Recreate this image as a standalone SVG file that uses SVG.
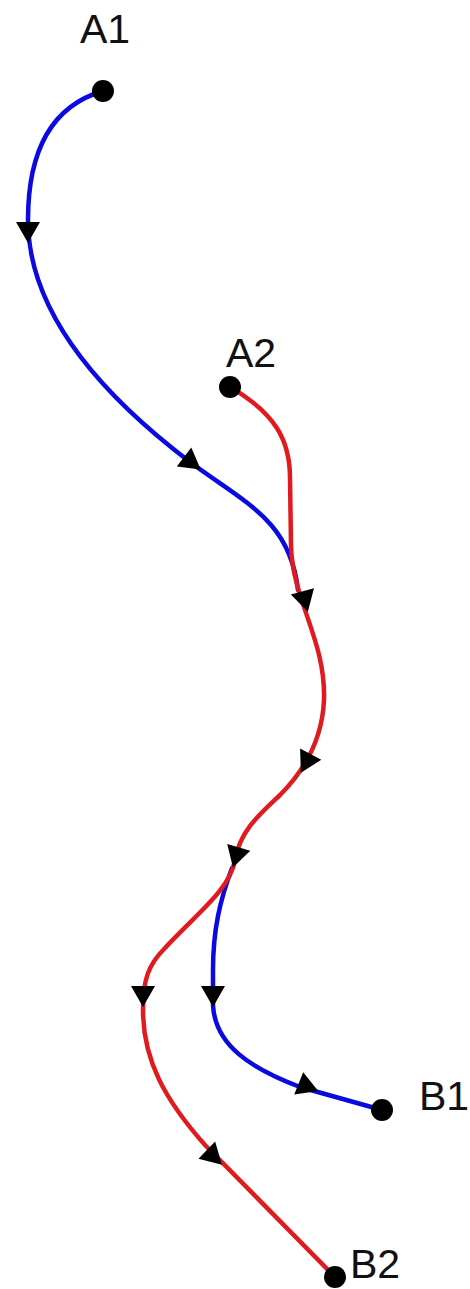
<svg xmlns="http://www.w3.org/2000/svg" width="470" height="1289" viewBox="0 0 470 1289">
<style>
.lbl{font-family:"Liberation Sans",Arial,sans-serif;font-size:41px;fill:#111}
.blue{fill:none;stroke:#0a0ae0;stroke-width:4.5;stroke-linecap:round}
.red{fill:none;stroke:#e01b1f;stroke-width:4.5;stroke-linecap:round}
.dot{fill:#000}
</style>
<defs>
<path id="arr" d="M-10,-12 L11,0 L-10,12 Z" fill="#000"/>
</defs>
<rect width="470" height="1289" fill="#fff"/>
<g id="connectors">
<path class="blue" d="M103,91 C55,105 28,145 28,220 C28,320 115,405 190,462 C245,503 290,520 298,590"/>
<path class="blue" d="M232,868 C220,900 213,930 213,970 L213,1005 C215,1045 250,1068 300,1087 L382,1110"/>
<path class="red" d="M230,387 C275,413 290,440 290,478 L291,545 C292,600 326,640 324,700 C322,745 300,775 280,795 C262,812 240,830 235,860 C230,890 195,915 165,948 C148,965 143,980 143,1010 C143,1060 165,1100 205,1145 L335,1277"/>
<use href="#arr" transform="translate(28,232) rotate(90)"/>
<use href="#arr" transform="translate(192,463) rotate(37)"/>
<use href="#arr" transform="translate(305,601) rotate(75)"/>
<use href="#arr" transform="translate(306,763) rotate(118)"/>
<use href="#arr" transform="translate(236,857) rotate(106)"/>
<use href="#arr" transform="translate(143,996) rotate(90)"/>
<use href="#arr" transform="translate(213,996) rotate(90)"/>
<use href="#arr" transform="translate(308,1087) rotate(22)"/>
<use href="#arr" transform="translate(214,1157) rotate(44)"/>
</g>
<g id="A1"><circle class="dot" cx="103" cy="91" r="11"/><text class="lbl" x="80" y="43">A1</text></g>
<g id="A2"><circle class="dot" cx="230" cy="387" r="11"/><text class="lbl" x="226" y="367">A2</text></g>
<g id="B1"><circle class="dot" cx="382" cy="1110" r="11"/><text class="lbl" x="419" y="1110">B1</text></g>
<g id="B2"><circle class="dot" cx="335" cy="1277" r="11"/><text class="lbl" x="350" y="1278">B2</text></g>
</svg>
